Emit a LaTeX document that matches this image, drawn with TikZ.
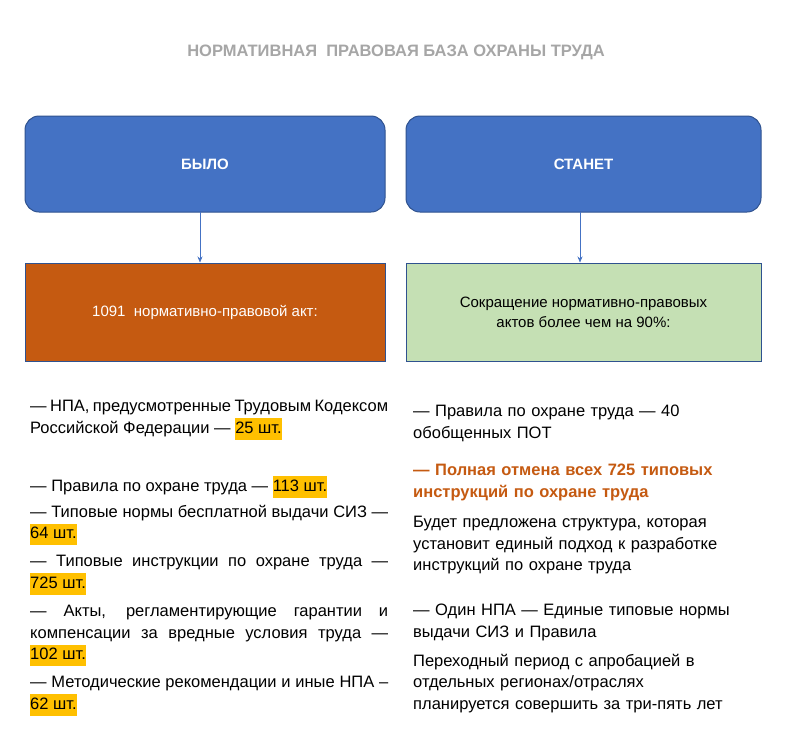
\documentclass[tikz,border=0pt]{standalone}
\usepackage{fontspec}
\setmainfont{Liberation Sans}
\usetikzlibrary{arrows.meta}
\definecolor{bl}{HTML}{4472C4}
\definecolor{bld}{HTML}{2F528F}
\definecolor{br}{HTML}{C55A11}
\definecolor{gr}{HTML}{C5E0B4}
\definecolor{hl}{HTML}{FFC000}
\definecolor{tt}{HTML}{A6A6A6}
\newcommand{\hlt}[1]{{\setlength{\fboxsep}{0pt}\colorbox{hl}{\strut #1}}}
\tikzset{
 hdr/.style={draw=bld,line width=1pt,fill=bl,rounded corners=14pt,minimum width=360pt,minimum height=96pt,text=white,font=\fontsize{15}{18}\selectfont\bfseries},
 sub/.style={draw=bld,line width=1pt,minimum width=360pt,minimum height=98pt,font=\fontsize{15}{20}\selectfont},
 lt/.style={anchor=north west,inner sep=0pt,text width=358pt,align=justify,font=\fontsize{16.5}{21.5}\selectfont},
 rt/.style={anchor=north west,inner sep=0pt,text width=350pt,align=left,font=\fontsize{16.5}{21.5}\selectfont},
 arr/.style={-{Stealth[length=6pt,width=5pt]},draw=bl,line width=0.6pt}
}
\begin{document}
\begin{tikzpicture}[x=1pt,y=-1pt]
\useasboundingbox[fill=white] (0,0) rectangle (786,745);
\node[text=tt,font=\fontsize{16.5}{20}\selectfont\bfseries] (title) at (396,52) {НОРМАТИВНАЯ\ \ ПРАВОВАЯ БАЗА ОХРАНЫ ТРУДА};
\node[hdr] (b1) at (205,164) {БЫЛО};
\node[hdr,minimum width=355pt] (b2) at (583.5,164) {СТАНЕТ};
\node[sub,fill=br,text=white] (s1) at (205,312) {1091\ \ нормативно-правовой акт:};
\node[sub,fill=gr,minimum width=355pt,align=center] (s2) at (583.5,312) {Сокращение нормативно-правовых\\актов более чем на 90\%:};
\draw[arr] (200,212) -- (200,262.5);
\draw[arr] (580,212) -- (580,262.5);
\node[lt] (l1) at (30,400) {— НПА, предусмотренные Трудовым Кодексом Российской Федерации — \hlt{25 шт.}};
\node[lt] (l2) at (30,476) {— Правила по охране труда — \hlt{113 шт.}};
\node[lt] (l3) at (30,505) {— Типовые нормы бесплатной выдачи СИЗ — \hlt{64 шт.}};
\node[lt] (l4) at (30,555) {— Типовые инструкции по охране труда — \hlt{725 шт.}};
\node[lt] (l5) at (30,605) {— Акты, регламентирующие гарантии и компенсации за вредные условия труда — \hlt{102 шт.}};
\node[lt] (l6) at (30,676) {— Методические рекомендации и иные НПА – \hlt{62 шт.}};
\node[rt] (r1) at (413,405) {— Правила по охране труда — 40\\обобщенных ПОТ};
\node[rt,text=br,font=\fontsize{16.5}{21.5}\selectfont\bfseries] (r2) at (413,464) {— Полная отмена всех 725 типовых\\инструкций по охране труда};
\node[rt] (r3) at (413,516) {Будет предложена структура, которая\\установит единый подход к разработке\\инструкций по охране труда};
\node[rt] (r4) at (413,604) {— Один НПА — Единые типовые нормы\\выдачи СИЗ и Правила};
\node[rt] (r5) at (413,654) {Переходный период с апробацией в\\отдельных регионах/отраслях\\планируется совершить за три-пять лет};
\end{tikzpicture}
\end{document}
